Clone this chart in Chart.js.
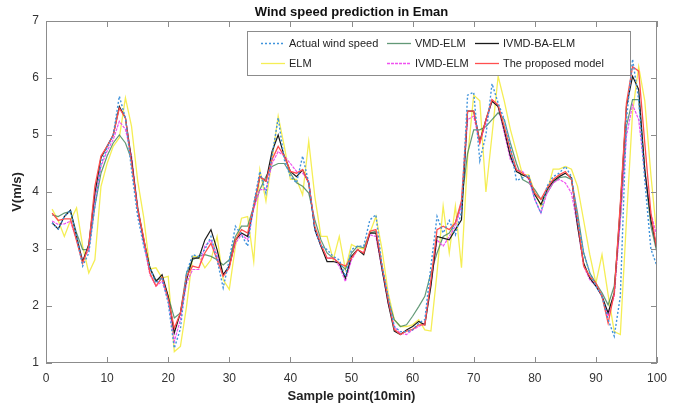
<!DOCTYPE html>
<html>
<head>
<meta charset="utf-8">
<script src="https://cdn.jsdelivr.net/npm/chart.js@4/dist/chart.umd.min.js"></script>
<style>
  html, body { margin: 0; padding: 0; background: #fff; }
  canvas { display: block; }
</style>
</head>
<body>
<canvas id="wind" width="693" height="407"></canvas>
<script>
// sample index (10 min steps)
const samplePoints = [1,2,3,4,5,6,7,8,9,10,11,12,13,14,15,16,17,18,19,20,
  21,22,23,24,25,26,27,28,29,30,31,32,33,34,35,36,37,38,39,40,
  41,42,43,44,45,46,47,48,49,50,51,52,53,54,55,56,57,58,59,60,
  61,62,63,64,65,66,67,68,69,70,71,72,73,74,75,76,77,78,79,80,
  81,82,83,84,85,86,87,88,89,90,91,92,93,94,95,96,97,98,99,100];

const actual = [3.46,3.35,3.57,3.68,3.22,2.7,2.93,3.75,4.5,4.78,
  5.0,5.68,5.3,4.39,3.57,3.05,2.67,2.4,2.5,2.05,
  1.26,1.6,2.58,2.9,2.87,2.99,3.22,2.81,2.32,2.81,
  3.4,3.25,3.05,3.8,4.36,3.98,4.63,5.3,4.57,4.27,
  4.16,4.63,4.16,3.34,3.05,2.99,2.87,2.81,2.52,2.99,
  3.05,3.05,3.51,3.6,2.7,2.17,1.64,1.55,1.55,1.58,
  1.7,1.76,2.7,3.57,3.28,3.5,3.25,3.65,5.7,5.75,
  4.55,5.0,5.9,5.56,5.27,4.8,4.2,4.25,4.3,3.87,
  3.63,4.1,4.27,4.33,4.45,4.27,3.51,2.93,2.58,2.35,
  2.17,1.76,1.47,2.17,5.27,6.33,5.62,4.2,3.0,2.7];

const vmdElm = [3.6,3.57,3.63,3.66,3.28,2.99,2.99,3.75,4.33,4.63,
  4.86,5.0,4.86,4.57,3.75,3.16,2.67,2.45,2.5,2.17,
  1.79,1.88,2.58,2.81,2.87,2.9,2.87,2.81,2.72,2.81,
  3.22,3.4,3.4,3.75,4.04,4.27,4.45,4.5,4.5,4.33,
  4.16,4.1,3.98,3.51,3.16,2.93,2.84,2.75,2.64,2.93,
  3.05,3.02,3.28,3.31,2.7,2.11,1.76,1.64,1.67,1.82,
  1.99,2.17,2.58,2.93,3.22,3.28,3.46,3.8,4.68,5.09,
  5.09,5.15,5.27,5.39,5.27,4.86,4.5,4.22,4.16,4.04,
  3.87,3.98,4.16,4.25,4.27,4.22,3.63,2.93,2.58,2.4,
  2.23,2.02,2.35,3.51,5.15,5.62,5.62,4.39,3.4,2.93];

const ivmdBaElm = [3.46,3.35,3.57,3.68,3.22,2.78,3.08,3.98,4.6,4.8,
  5.0,5.5,5.3,4.57,3.7,3.16,2.67,2.43,2.55,2.17,
  1.53,1.88,2.46,2.84,2.84,3.16,3.34,2.99,2.55,2.7,
  3.16,3.28,3.22,3.75,4.27,4.19,4.71,5.0,4.63,4.36,
  4.27,4.39,4.16,3.34,3.05,2.78,2.78,2.75,2.49,2.87,
  2.99,2.9,3.28,3.28,2.64,2.05,1.56,1.5,1.58,1.64,
  1.73,1.67,2.35,3.22,3.19,3.16,3.34,3.51,5.42,5.42,
  4.89,5.27,5.59,5.5,5.09,4.63,4.36,4.3,4.25,3.95,
  3.78,4.04,4.19,4.27,4.33,4.25,3.4,2.75,2.49,2.35,
  2.17,1.88,2.23,3.75,5.5,6.03,5.8,4.39,3.51,2.99];

const elm = [3.7,3.5,3.22,3.5,3.72,3.05,2.58,2.81,4.1,4.5,
  4.8,4.95,5.65,5.15,4.2,3.55,2.65,2.67,2.49,2.52,
  1.2,1.29,1.99,2.87,2.87,2.67,2.81,3.22,2.46,2.29,
  3.05,3.54,3.57,2.78,4.39,3.84,4.57,5.33,4.8,4.22,
  4.22,3.95,4.89,3.92,3.22,3.22,2.81,3.22,2.64,3.08,
  3.02,3.0,3.28,3.57,2.99,2.23,1.76,1.64,1.64,1.67,
  1.76,1.58,1.56,2.58,3.75,2.93,3.75,2.67,4.6,5.7,
  5.6,4.0,5.0,6.03,5.6,5.1,4.7,4.3,4.3,4.0,
  3.75,4.0,4.4,4.4,4.45,4.4,4.1,3.5,2.9,2.4,
  2.9,2.2,1.55,1.5,3.5,5.4,6.2,5.6,4.3,3.2];

const ivmdElm = [3.49,3.43,3.44,3.49,3.16,2.8,2.99,3.87,4.45,4.72,
  4.92,5.24,5.1,4.63,3.7,3.1,2.55,2.35,2.43,2.11,
  1.38,1.76,2.4,2.64,2.64,3.05,3.16,2.9,2.55,2.7,
  3.1,3.25,3.16,3.7,4.04,4.04,4.5,4.71,4.63,4.5,
  4.36,4.33,4.19,3.34,3.05,2.84,2.84,2.7,2.43,2.81,
  2.99,2.93,3.25,3.22,2.64,2.05,1.64,1.52,1.5,1.58,
  1.64,1.7,2.4,3.16,3.05,3.22,3.4,3.75,5.27,5.33,
  4.86,5.21,5.62,5.5,5.04,4.57,4.39,4.36,4.22,3.87,
  3.63,3.98,4.16,4.22,4.16,3.98,3.4,2.7,2.46,2.35,
  2.17,1.82,2.17,3.51,4.98,5.53,5.27,4.33,3.63,3.22];

const proposed = [3.63,3.5,3.53,3.53,3.15,2.75,3.05,4.1,4.63,4.8,
  5.0,5.47,5.3,4.5,3.7,3.19,2.58,2.35,2.5,2.12,
  1.61,1.88,2.52,2.7,2.67,2.93,3.1,2.81,2.52,2.67,
  3.16,3.34,3.28,3.75,4.27,4.19,4.57,4.8,4.63,4.36,
  4.33,4.39,4.16,3.4,3.08,2.84,2.84,2.75,2.7,2.84,
  2.99,2.93,3.31,3.34,2.7,2.11,1.59,1.5,1.56,1.59,
  1.67,1.67,2.46,3.34,3.4,3.34,3.46,3.85,5.42,5.42,
  4.86,5.27,5.62,5.53,5.15,4.74,4.39,4.33,4.25,3.98,
  3.87,4.07,4.22,4.3,4.36,4.22,3.51,2.7,2.52,2.4,
  2.17,1.7,2.23,3.8,5.56,6.2,6.12,4.86,3.63,2.99];

const xTicks = [0,10,20,30,40,50,60,70,80,90,100];
const yTicks = [1,2,3,4,5,6,7];

const FONT = "'Liberation Sans', Arial, Helvetica, sans-serif";

// box, inward ticks, title and the in-plot legend (MATLAB look)
const matlabLook = {
  id: 'matlabLook',
  afterDatasetsDraw(chart) {
    const ctx = chart.ctx;
    const a = chart.chartArea;
    const xs = chart.scales.x, ys = chart.scales.y;
    ctx.save();
    ctx.strokeStyle = '#8c8c8c';
    ctx.lineWidth = 1;
    ctx.strokeRect(a.left + 0.5, a.top + 0.5, a.right - a.left - 1, a.bottom - a.top - 1);
    ctx.beginPath();
    xTicks.forEach(t => {
      const px = Math.round(xs.getPixelForValue(t)) + 0.5;
      ctx.moveTo(px, a.bottom); ctx.lineTo(px, a.bottom - 6);
      ctx.moveTo(px, a.top); ctx.lineTo(px, a.top + 6);
    });
    yTicks.forEach(t => {
      const py = Math.round(ys.getPixelForValue(t)) + 0.5;
      ctx.moveTo(a.left, py); ctx.lineTo(a.left + 6, py);
      ctx.moveTo(a.right, py); ctx.lineTo(a.right - 6, py);
    });
    ctx.stroke();
    ctx.restore();
  },
  afterDraw(chart) {
    const ctx = chart.ctx;
    const a = chart.chartArea;
    ctx.save();
    // title
    ctx.fillStyle = '#111';
    ctx.font = 'bold 13px ' + FONT;
    ctx.textAlign = 'center';
    ctx.textBaseline = 'middle';
    ctx.fillText('Wind speed prediction in Eman', (a.left + a.right) / 2, 12);

    // legend box
    const bx = 247, by = 31, bw = 383, bh = 44;
    ctx.fillStyle = '#fff';
    ctx.fillRect(bx, by, bw, bh);
    ctx.strokeStyle = '#8c8c8c';
    ctx.lineWidth = 1;
    ctx.strokeRect(bx + 0.5, by + 0.5, bw, bh);
    const colX = [14, 140, 228];
    const rowY = [12.5, 32.5];
    ctx.font = '11px ' + FONT;
    ctx.textAlign = 'left';
    chart.data.datasets.forEach((ds, i) => {
      const x0 = bx + colX[i % 3];
      const y0 = by + rowY[Math.floor(i / 3)];
      ctx.strokeStyle = ds.borderColor;
      ctx.lineWidth = 1.3;
      ctx.setLineDash(ds.borderDash || []);
      ctx.beginPath();
      ctx.moveTo(x0, y0); ctx.lineTo(x0 + 24, y0);
      ctx.stroke();
      ctx.setLineDash([]);
      ctx.fillStyle = '#222';
      ctx.fillText(ds.label, x0 + 28, y0 + 0.5);
    });
    ctx.restore();
  }
};

function series(label, data, color, width, dash, order) {
  return {
    label: label,
    data: data,
    borderColor: color,
    borderWidth: width,
    borderDash: dash,
    pointRadius: 0,
    tension: 0,
    fill: false,
    order: order
  };
}

new Chart(document.getElementById('wind'), {
  type: 'line',
  plugins: [matlabLook],
  data: {
    labels: samplePoints,
    datasets: [
      series('Actual wind speed', actual, '#3f93dc', 1.4, [2, 2], 0),
      series('VMD-ELM', vmdElm, 'rgba(70,135,95,0.85)', 1.2, [], 4),
      series('IVMD-BA-ELM', ivmdBaElm, '#1a1a1a', 1.2, [], 2),
      series('ELM', elm, '#f5ee55', 1.3, [], 5),
      series('IVMD-ELM', ivmdElm, '#f050f0', 1.2, [3, 1], 3),
      series('The proposed model', proposed, '#ff4f4f', 1.3, [], 1)
    ]
  },
  options: {
    responsive: false,
    animation: false,
    devicePixelRatio: 1,
    layout: { padding: { top: 21, right: 36, left: 0, bottom: 0 } },
    plugins: {
      legend: { display: false },
      title: { display: false },
      tooltip: { enabled: false }
    },
    scales: {
      x: {
        type: 'linear',
        min: 0,
        max: 100,
        afterFit: s => { s.height = 44; },
        afterBuildTicks: s => { s.ticks = xTicks.map(v => ({ value: v })); },
        grid: { display: false, drawTicks: false },
        border: { display: false },
        ticks: { color: '#333', font: { family: FONT, size: 12 }, padding: 8, maxRotation: 0 },
        title: {
          display: true,
          text: 'Sample point(10min)',
          color: '#222',
          font: { family: FONT, size: 13, weight: 'bold' },
          padding: { top: 0, bottom: 3 }
        }
      },
      y: {
        min: 1,
        max: 7,
        afterFit: s => { s.width = 46; },
        afterBuildTicks: s => { s.ticks = yTicks.map(v => ({ value: v })); },
        grid: { display: false, drawTicks: false },
        border: { display: false },
        ticks: { color: '#333', font: { family: FONT, size: 12 }, padding: 7 },
        title: {
          display: true,
          text: 'V(m/s)',
          color: '#222',
          font: { family: FONT, size: 13, weight: 'bold' },
          padding: { top: 10, bottom: 0 }
        }
      }
    }
  }
});
</script>
</body>
</html>
